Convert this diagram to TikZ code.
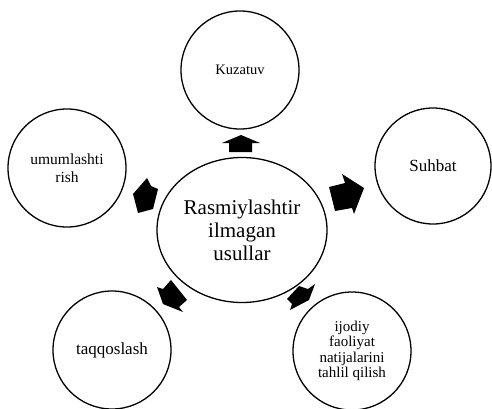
\documentclass[tikz,border=0pt]{standalone}
\usepackage{fontspec}
\setmainfont{Liberation Serif}
\usetikzlibrary{shapes.geometric}
\begin{document}
\begin{tikzpicture}[x=1pt,y=-1pt,
  circ/.style={draw, circle, line width=1.3pt, minimum size=118pt, inner sep=0pt, align=center},
  blk/.style={fill=black, draw=none}]
\useasboundingbox (0,0) rectangle (492,409);
\node[draw, ellipse, line width=1.3pt, minimum width=170pt, minimum height=145pt, inner sep=0pt, align=center,
  font=\fontsize{21}{23}\selectfont] (c) at (242,230) {Rasmiylashtir\\ilmagan\\usullar};
\node[circ, font=\fontsize{14.5}{16}\selectfont] (k) at (240,70) {Kuzatuv};
\node[circ, font=\fontsize{15.5}{17.5}\selectfont] (u) at (67,168) {umumlashti\\rish};
\node[circ, minimum size=116pt, font=\fontsize{17}{19}\selectfont] (s) at (433,166) {Suhbat};
\node[circ, font=\fontsize{17}{19}\selectfont] (t) at (112,350) {taqqoslash};
\node[circ, font=\fontsize{15}{15.4}\selectfont] (i) at (352,351) {ijodiy\\faoliyat\\natijalarini\\tahlil qilish};
% block arrows
\fill[blk] (241,135) -- (260,143) -- (252,143) -- (252,152) -- (229,152) -- (229,143) -- (222,143) -- cycle;
\fill[blk] (329,187) -- (345,183) -- (342,174) -- (364,188) -- (354,214) -- (352,208) -- (335,211) -- cycle;
\fill[blk] (133,194) -- (147,178) -- (151,186) -- (158,189) -- (153,209) -- (138,213) -- cycle;
\fill[blk] (157,287) -- (163,289) -- (171,280) -- (187,300) -- (179,307) -- (183,312) -- (163,304) -- cycle;
\fill[blk] (287,299) -- (299,286) -- (308,289) -- (315,284) -- (309,300) -- (290,310) -- (292,304) -- cycle;
\end{tikzpicture}
\end{document}
